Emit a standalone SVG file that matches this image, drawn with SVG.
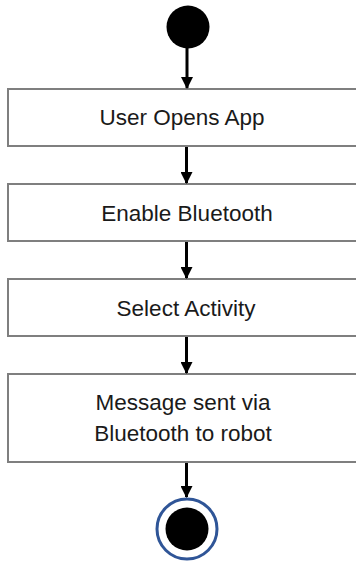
<svg xmlns="http://www.w3.org/2000/svg" width="356" height="563" viewBox="0 0 356 563">
<defs>
<style>
.box{fill:#ffffff;stroke:#7f7f7f;stroke-width:2}
.lbl{font-family:"Liberation Sans",Arial,sans-serif;font-size:22.5px;fill:#1a1a1a;text-anchor:middle}
.conn{stroke:#000;stroke-width:3;fill:none;marker-end:url(#ah)}
</style>
<marker id="ah" viewBox="0 0 12 12" refX="11" refY="6" markerWidth="12" markerHeight="12" markerUnits="userSpaceOnUse" orient="auto">
<path d="M0,0 L12,6 L0,12 Z" fill="#000"/>
</marker>
</defs>
<rect width="356" height="563" fill="#ffffff"/>
<g id="start"><circle cx="188" cy="27" r="21.5" fill="#000"/></g>
<g id="n1"><rect class="box" x="8" y="89" width="360" height="57"/><text class="lbl" x="182" y="125">User Opens App</text></g>
<g id="n2"><rect class="box" x="8" y="184" width="360" height="57"/><text class="lbl" x="187" y="221">Enable Bluetooth</text></g>
<g id="n3"><rect class="box" x="8" y="279" width="360" height="57"/><text class="lbl" x="186" y="316">Select Activity</text></g>
<g id="n4"><rect class="box" x="8" y="374" width="360" height="88"/><text class="lbl" x="183" y="410">Message sent via</text><text class="lbl" x="183" y="441">Bluetooth to robot</text></g>
<g id="end"><circle cx="187" cy="529" r="30" fill="#fff" stroke="#2f5597" stroke-width="3"/><circle cx="187" cy="529" r="21.5" fill="#000"/></g>
<g id="connectors">
<line class="conn" x1="187" y1="48" x2="187" y2="88"/>
<line class="conn" x1="186.5" y1="147" x2="186.5" y2="183"/>
<line class="conn" x1="186.5" y1="242" x2="186.5" y2="278"/>
<line class="conn" x1="186.5" y1="337" x2="186.5" y2="373"/>
<line class="conn" x1="186.5" y1="463" x2="186.5" y2="497"/>
</g>
</svg>
